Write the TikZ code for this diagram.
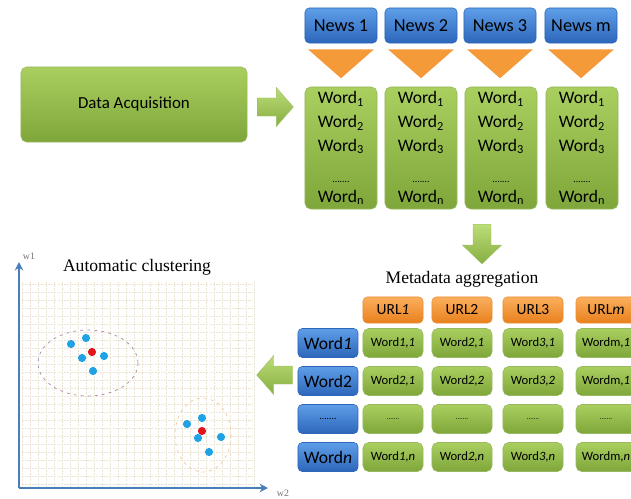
\documentclass[tikz,border=0pt]{standalone}
\usepackage{fontspec}
\setmainfont{Carlito}
\newfontfamily\timesfont{Liberation Serif}
\usepackage{tikz}
\usetikzlibrary{arrows.meta,positioning,calc}

\definecolor{grnlight}{HTML}{A9CF5F}
\definecolor{grndark}{HTML}{7FA63A}
\definecolor{arrlight}{HTML}{BCDD78}
\definecolor{arrdark}{HTML}{86AE40}
\definecolor{bluelight}{HTML}{5E9EE8}
\definecolor{bluedark}{HTML}{2D66BA}
\definecolor{orglight}{HTML}{FBAF5E}
\definecolor{orgdark}{HTML}{E8801C}
\definecolor{triorange}{HTML}{F49A38}
\definecolor{axisblue}{HTML}{4A7EBB}
\definecolor{dotblue}{HTML}{1FA3E6}
\definecolor{dotred}{HTML}{E3141B}
\definecolor{gridtan}{HTML}{EDE5D6}

% block arrow, centred on the origin, pointing right
\newcommand{\fatarrow}{(-18,-9) -- (1,-9) -- (1,-19.5) -- (18,0) -- (1,19.5) -- (1,9) -- (-18,9) -- cycle}

\begin{document}
\begin{tikzpicture}[x=0.025cm, y=-0.025cm,
  greenbox/.style={rounded corners=4pt, top color=grnlight, bottom color=grndark, draw=grndark!80, inner sep=0pt},
  bluebox/.style={rounded corners=3pt, top color=bluelight, bottom color=bluedark, draw=bluedark, inner sep=0pt},
  urlbox/.style={rounded corners=3pt, top color=orglight, bottom color=orgdark, draw=orgdark!90, inner sep=0pt,
    minimum width=1.5cm, minimum height=0.65cm, font=\fontsize{11}{13}\selectfont},
  newsbox/.style={bluebox, minimum width=1.8cm, minimum height=0.875cm, font=\fontsize{13}{15}\selectfont},
  wordcol/.style={greenbox, minimum width=1.8cm, minimum height=3.05cm, align=center, font=\fontsize{12.5}{17}\selectfont},
  rowhead/.style={bluebox, minimum width=1.5cm, minimum height=0.725cm, font=\fontsize{12.5}{14}\selectfont},
  cellbox/.style={greenbox, minimum width=1.5cm, minimum height=0.725cm, font=\fontsize{9}{11}\selectfont},
  blockarrow/.style={top color=arrlight, bottom color=arrdark, draw=arrdark!80, line width=0.3pt},
  tri/.style={fill=triorange},
  gridline/.style={gridtan, line width=0.35pt, dash pattern=on 1.5pt off 0.8pt},
  axisline/.style={axisblue, line width=1.1pt, -{Stealth[length=6pt,width=6pt]}},
  axlabel/.style={font=\timesfont\fontsize{7}{8}\selectfont, text=black!55, inner sep=1pt},
  caption/.style={font=\timesfont\fontsize{12.5}{14}\selectfont},
  cluster/.style={dash pattern=on 2pt off 3pt, line width=0.5pt}]

  \useasboundingbox (0,0) rectangle (631,499);
  \clip (0,0) rectangle (631,499);

  % acquisition
  \node[greenbox, minimum width=5.65cm, minimum height=1.875cm, font=\fontsize{12}{14}\selectfont] (acq) at (134,104.5) {Data Acquisition};

  % news items and their words
  \node[newsbox] (news1) at (341,25.5) {News 1};
  \node[newsbox] (news2) at (421,25.5) {News 2};
  \node[newsbox] (news3) at (500,25.5) {News 3};
  \node[newsbox] (news4) at (581,25.5) {News m};

  \foreach \n in {1,...,4}
    \fill[tri] ($(news\n.south)+(-33,6)$) -- ($(news\n.south)+(33,6)$) -- ($(news\n.south)+(0,35)$) -- cycle;

  \foreach \x [count=\n] in {341,421,501,582}
    \node[wordcol] (col\n) at (\x,148) {Word\textsubscript{1}\\Word\textsubscript{2}\\Word\textsubscript{3}\\[5pt]{\scriptsize .......}\\[-3pt]Word\textsubscript{n}};

  \begin{scope}[shift={($(acq.east)+(28,2.5)$)}]
    \shade[blockarrow] \fatarrow;
  \end{scope}

  % aggregation
  \node[caption] (meta) at (462,279) {Metadata aggregation};

  \begin{scope}[shift={($(meta.north)+(20,-22)$)}, rotate=-90, xscale=1.1]
    \shade[blockarrow] \fatarrow;
  \end{scope}

  \node[urlbox] (url1) at (393,310) {URL\textit{1}};
  \node[urlbox] (url2) at (462,310) {URL2};
  \node[urlbox] (url3) at (533,310) {URL3};
  \node[urlbox] (url4) at (606,310) {URL\textit{m}};

  \node[rowhead] (head1) at (328,343) {Word\textit{1}};
  \node[rowhead] (head2) at (328,381) {Word2};
  \node[rowhead] (head3) at (328,419) {{\scriptsize .......}};
  \node[rowhead] (head4) at (328,457) {Word\textit{n}};

  \foreach \x/\t [count=\c] in {393/{Word\textit{1,1}}, 462/{Word\textit{2,1}}, 533/{Word\textit{3,1}}, 606/{Wordm,\textit{1}}}
    \node[cellbox] (cell1\c) at (\x,343) {\t};
  \foreach \x/\t [count=\c] in {393/{Word\textit{2,1}}, 462/{Word\textit{2,2}}, 533/{Word\textit{3,2}}, 606/{Wordm,\textit{1}}}
    \node[cellbox] (cell2\c) at (\x,381) {\t};
  \foreach \x [count=\c] in {393,462,533,606}
    \node[cellbox] (cell3\c) at (\x,419) {{\tiny .......}};
  \foreach \x/\t [count=\c] in {393/{Word\textit{1,n}}, 462/{Word\textit{2,n}}, 533/{Word\textit{3,n}}, 606/{Wordm,\textit{n}}}
    \node[cellbox] (cell4\c) at (\x,457) {\t};

  % clustering
  \begin{scope}[shift={($(head2.west)+(-23,-6)$)}, rotate=180]
    \shade[blockarrow] \fatarrow;
  \end{scope}

  \foreach \gx in {22,30,...,254}
    \draw[gridline] (\gx,282) -- (\gx,488);
  \foreach \gy in {284,292,...,488}
    \draw[gridline] (22,\gy) -- (253,\gy);

  \coordinate (orig) at (19,488);
  \coordinate (ytip) at (19,262);
  \coordinate (xtip) at (268,488);
  \draw[axisline] (orig) -- (ytip);
  \draw[axisline] (orig) -- (xtip);
  \node[axlabel] (w1) at (29,256) {w1};
  \node[axlabel] (w2) at (283,493) {w2};
  \node[caption] (clust) at (137,267) {Automatic clustering};

  \draw[cluster, violet!35!gray!70] (88,363) ellipse [x radius=50, y radius=33];
  \foreach \p in {(71,344),(86,338),(82,358),(104,356),(93,371)}
    \fill[dotblue] \p circle (2.9pt);
  \fill[dotred] (92,352) circle (2.9pt);

  \draw[cluster, orange!40!brown!45] (203,435) ellipse [x radius=28, y radius=37];
  \foreach \p in {(187,424),(202,418),(198,438),(221,437),(209,452)}
    \fill[dotblue] \p circle (2.9pt);
  \fill[dotred] (202,431) circle (2.9pt);
\end{tikzpicture}
\end{document}
